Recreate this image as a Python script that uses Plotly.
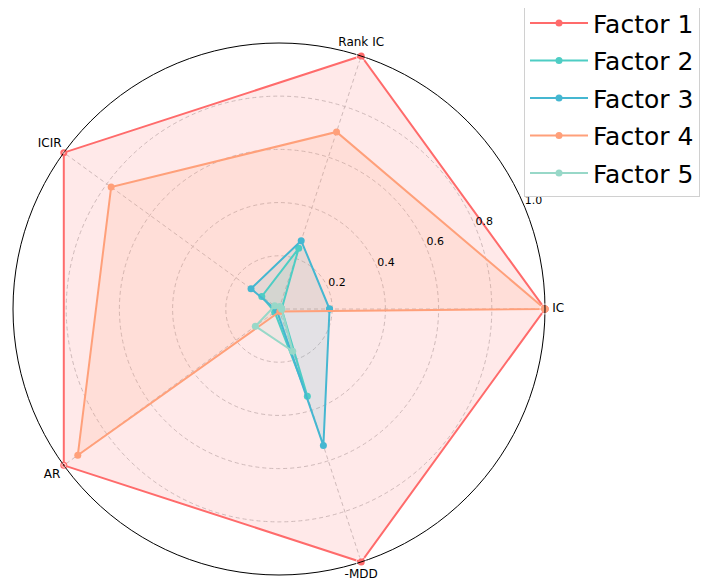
import plotly.graph_objects as go

categories = ["IC", "Rank IC", "ICIR", "AR", "-MDD"]
factor_names = ["Factor 1", "Factor 2", "Factor 3", "Factor 4", "Factor 5"]
factor1 = [1.0, 1.0, 1.0, 1.0, 1.0]
factor2 = [0.01, 0.24, 0.08, 0.02, 0.345]
factor3 = [0.19, 0.27, 0.13, 0.01, 0.54]
factor4 = [1.0, 0.70, 0.78, 0.935, 0.01]
factor5 = [0.01, 0.01, 0.02, 0.11, 0.167]
colors = ["#FF6B6B", "#4ECDC4", "#45B7D1", "#FFA07A", "#98D8C8"]
radial_ticks = [0.2, 0.4, 0.6, 0.8, 1.0]
radial_ticktext = ["0.2", "0.4", "0.6", "0.8", "1.0"]

series = [factor1, factor2, factor3, factor4, factor5]


def rgba(hex_color, a):
    h = hex_color.lstrip("#")
    r, g, b = int(h[0:2], 16), int(h[2:4], 16), int(h[4:6], 16)
    return f"rgba({r},{g},{b},{a})"


fig = go.Figure()
theta = categories + [categories[0]]
for name, vals, col in zip(factor_names, series, colors):
    r = vals + [vals[0]]
    fig.add_trace(go.Scatterpolar(
        r=r, theta=theta, mode="lines", fill="toself",
        fillcolor=rgba(col, 0.15), line=dict(width=0, color=col),
        legendgroup=name, showlegend=False, hoverinfo="skip"))
for name, vals, col in zip(factor_names, series, colors):
    r = vals + [vals[0]]
    fig.add_trace(go.Scatterpolar(
        r=r, theta=theta, mode="lines+markers", name=name, legendgroup=name,
        line=dict(width=2, color=col), marker=dict(size=7, color=col)))

# labels placed matplotlib-style on an overlaid, hidden polar subplot
n = len(categories)
cat_angles = [i * 360 / n for i in range(n)]
cat_positions = ["middle right", "top center", "top left", "bottom left", "bottom center"]
fig.add_trace(go.Scatterpolar(
    subplot="polar2", r=[1.0] * n, theta=cat_angles, mode="markers+text",
    text=categories, textposition=cat_positions, cliponaxis=False,
    marker=dict(size=[10, 10, 2, 4, 10], color="rgba(0,0,0,0)"),
    textfont=dict(size=12, family="DejaVu Sans", color="black"),
    showlegend=False, hoverinfo="skip"))
fig.add_trace(go.Scatterpolar(
    subplot="polar2", r=radial_ticks, theta=[22.5] * len(radial_ticks),
    mode="text", text=radial_ticktext, textposition="top right", cliponaxis=False,
    textfont=dict(size=11, family="DejaVu Sans", color="black"),
    showlegend=False, hoverinfo="skip"))

domain = dict(x=[5 / 713, 537 / 713], y=[13 / 580, 545 / 580])
fig.update_layout(
    width=713, height=580,
    margin=dict(l=0, r=0, t=0, b=0, autoexpand=False),
    paper_bgcolor="white",
    font=dict(family="DejaVu Sans", color="black"),
    polar=dict(
        domain=domain,
        bgcolor="white",
        angularaxis=dict(
            type="category", rotation=0, direction="counterclockwise",
            showline=True, linecolor="black", linewidth=1,
            gridcolor="#c8c8c8", griddash="4px,3px", gridwidth=1,
            ticks="", showticklabels=False,
        ),
        radialaxis=dict(
            range=[0, 1], tickvals=radial_ticks,
            angle=22.5, showline=False, ticks="", showticklabels=False,
            gridcolor="#c8c8c8", griddash="4px,3px", gridwidth=1,
        ),
    ),
    polar2=dict(
        domain=domain,
        bgcolor="rgba(0,0,0,0)",
        angularaxis=dict(type="linear", rotation=0, direction="counterclockwise",
                         visible=False, showgrid=False),
        radialaxis=dict(range=[0, 1], visible=False, showgrid=False),
    ),
    legend=dict(
        x=516 / 713, y=1.015, xanchor="left", yanchor="top",
        font=dict(size=25, family="DejaVu Sans", color="black"),
        bordercolor="#d0d0d0", borderwidth=1, bgcolor="white",
        itemwidth=58, tracegroupgap=2,
    ),
)

fig.write_html("out.html")
